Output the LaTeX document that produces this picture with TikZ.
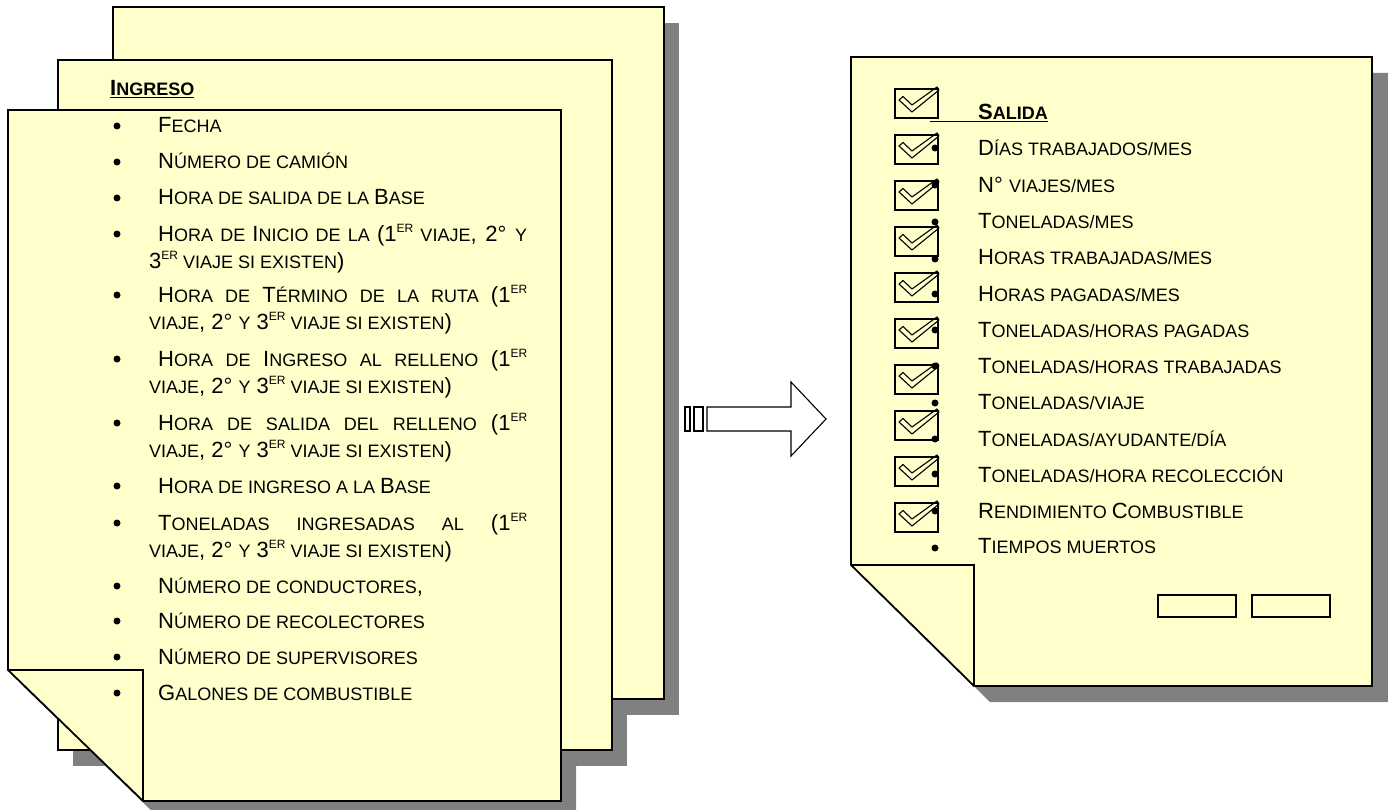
\documentclass[tikz,border=0pt]{standalone}
\usepackage{fontspec}
\setmainfont{Liberation Sans}
\definecolor{paper}{HTML}{FFFFCC}
\definecolor{shadowgray}{HTML}{808080}
\newcommand\smc[1]{{\fontsize{18}{20}\selectfont #1}}
\newcommand\er{\raisebox{8.5pt}{\fontsize{12}{12}\selectfont ER}}
\newcommand\jl[1]{\makebox[369pt][s]{#1}}
\newcommand\vtail{\smc{VIAJE}, 2° \smc{Y} 3\er\smc{ VIAJE SI EXISTEN})}
\begin{document}
\begin{tikzpicture}[x=1pt,y=-1pt,
  page/.style={fill=paper, draw=black, line width=1.8pt},
  shade/.style={fill=shadowgray},
  txt/.style={anchor=base west, inner sep=0pt, font=\fontsize{22}{26}\selectfont},
  ttl/.style={anchor=base west, inner sep=0pt, font=\bfseries\fontsize{22}{26}\selectfont},
  chk/.style={draw=black, line width=1.5pt},
  tick/.style={draw=black, line width=1.1pt, line join=round},
  blockarrow/.style={draw=black, line width=1.1pt, fill=white}]
\useasboundingbox (0,0) rectangle (1388,810);

% ---------- shadows ----------
\fill[shade] (128,23) rectangle (679,715);
\fill[shade] (73,76) rectangle (627,766);
\fill[shade] (23,126) -- (576,126) -- (576,817) -- (158,817) -- (23,686) -- cycle;
\fill[shade] (867,73) -- (1388,73) -- (1388,702) -- (990,702) -- (867,581) -- cycle;

% ---------- left stack ----------
\filldraw[page] (113,7) rectangle (664,699);
\filldraw[page] (58,60) rectangle (612,750);
\filldraw[page] (8,110) -- (561,110) -- (561,801) -- (143,801) -- (8,670) -- cycle;
\draw[page, fill=none] (8,670) -- (143,670) -- (143,801);

\node[ttl] (ingreso) at (110,96) {\underline{I\smc{NGRESO}}};

\foreach \y in {133,169,205,241,302,366,430,493,530,593,628,664,700}
  \fill (117,\y-7) circle (3.5);

\node[txt] (i1)  at (158,133) {F\smc{ECHA}};
\node[txt] (i2)  at (158,169) {N\smc{ÚMERO DE CAMIÓN}};
\node[txt] (i3)  at (158,205) {H\smc{ORA DE SALIDA DE LA }B\smc{ASE}};
\node[txt] (i4a) at (158,241) {\jl{H\smc{ORA DE }I\smc{NICIO DE LA }(1\er\smc{ VIAJE}, 2° \smc{Y}}};
\node[txt] (i4b) at (149,268) {3\er\smc{ VIAJE SI EXISTEN})};
\node[txt] (i5a) at (158,302) {\jl{H\smc{ORA DE }T\smc{ÉRMINO DE LA RUTA }(1\er}};
\node[txt] (i5b) at (149,329) {\vtail};
\node[txt] (i6a) at (158,366) {\jl{H\smc{ORA DE }I\smc{NGRESO AL RELLENO }(1\er}};
\node[txt] (i6b) at (149,393) {\vtail};
\node[txt] (i7a) at (158,430) {\jl{H\smc{ORA DE SALIDA DEL RELLENO }(1\er}};
\node[txt] (i7b) at (149,457) {\vtail};
\node[txt] (i8)  at (158,493) {H\smc{ORA DE INGRESO A LA }B\smc{ASE}};
\node[txt] (i9a) at (158,530) {\jl{T\smc{ONELADAS INGRESADAS AL }(1\er}};
\node[txt] (i9b) at (149,557) {\vtail};
\node[txt] (i10) at (158,593) {N\smc{ÚMERO DE CONDUCTORES},};
\node[txt] (i11) at (158,628) {N\smc{ÚMERO DE RECOLECTORES}};
\node[txt] (i12) at (158,664) {N\smc{ÚMERO DE SUPERVISORES}};
\node[txt] (i13) at (158,700) {G\smc{ALONES DE COMBUSTIBLE}};

% ---------- arrow ----------
\draw[blockarrow] (685,407) rectangle (690,431);
\draw[blockarrow] (694,407) rectangle (703,431);
\draw[blockarrow] (707,407) -- (791,407) -- (791,382) -- (826,419) -- (791,456) -- (791,431) -- (707,431) -- cycle;

% ---------- right page ----------
\filldraw[page] (851,57) -- (1372,57) -- (1372,686) -- (974,686) -- (851,565) -- cycle;
\draw[page, fill=none] (851,565) -- (974,565) -- (974,686);
\draw[page] (1158,595) rectangle (1236,617);
\draw[page] (1252,595) rectangle (1330,617);

\foreach \i in {0,...,9}{
  \begin{scope}[shift={(895,89+46*\i)}]
    \draw[chk] (0,0) rectangle (43,29);
    \draw[tick] (4,11) -- (8,7.5) -- (17,16) -- (42,-2) -- (44,1) -- (17,23) -- cycle;
  \end{scope}
}
\foreach \y in {148,185,222,259,294,330,366,403,439,474,511,548}
  \fill (935,\y) circle (3.5);

\node[ttl] (salida) at (930,120) {\underline{\hspace{48pt}S\smc{ALIDA}}};
\node[txt] (s1)  at (978,156) {D\smc{ÍAS TRABAJADOS/MES}};
\node[txt] (s2)  at (978,193) {N° \smc{VIAJES/MES}};
\node[txt] (s3)  at (978,229) {T\smc{ONELADAS/MES}};
\node[txt] (s4)  at (978,265) {H\smc{ORAS TRABAJADAS/MES}};
\node[txt] (s5)  at (978,301) {H\smc{ORAS PAGADAS/MES}};
\node[txt] (s6)  at (978,337) {T\smc{ONELADAS/HORAS PAGADAS}};
\node[txt] (s7)  at (978,373) {T\smc{ONELADAS/HORAS TRABAJADAS}};
\node[txt] (s8)  at (978,409) {T\smc{ONELADAS/VIAJE}};
\node[txt] (s9)  at (978,446) {T\smc{ONELADAS/AYUDANTE/DÍA}};
\node[txt] (s10) at (978,482) {T\smc{ONELADAS/HORA RECOLECCIÓN}};
\node[txt] (s11) at (978,518) {R\smc{ENDIMIENTO }C\smc{OMBUSTIBLE}};
\node[txt] (s12) at (978,553) {T\smc{IEMPOS MUERTOS}};
\end{tikzpicture}
\end{document}
